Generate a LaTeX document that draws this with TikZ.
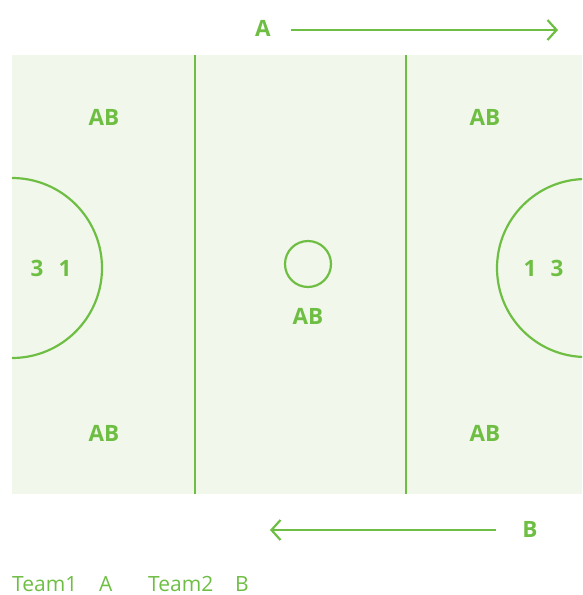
\documentclass[tikz,border=0pt]{standalone}
\usepackage{fontspec}
\setmainfont{Open Sans}
\usetikzlibrary{arrows.meta}
\definecolor{fgreen}{HTML}{6FBE44}
\definecolor{ffill}{HTML}{F1F8EB}
\tikzset{
  lbl/.style={text=fgreen,font=\bfseries\fontsize{22.5}{26}\selectfont,inner sep=0pt},
  leg/.style={text=fgreen,font=\fontsize{21}{24}\selectfont,inner sep=0pt,anchor=base west},
  fline/.style={draw=fgreen,line width=2.2pt},
  arr/.style={draw=fgreen,line width=2.2pt,-{Straight Barb[length=9pt,width=20pt,line width=2.2pt]}}
}
\begin{document}
\begin{tikzpicture}[x=1pt,y=-1pt]
\useasboundingbox (0,0) rectangle (582,595);
% field
\fill[ffill] (12,55) rectangle (582,494);
\draw[fline] (195,55) -- (195,494);
\draw[fline] (406,55) -- (406,494);
\begin{scope}
\clip (12,55) rectangle (582,494);
\draw[fline] (12,178) arc[start angle=-90,end angle=90,radius=90];
\draw[fline] (586,179) arc[start angle=-90,end angle=-270,radius=89];
\end{scope}
\node[circle,fline,minimum size=46pt,inner sep=0pt] (c) at (308,264) {};
% labels
\node[lbl] (ab1) at (104,117) {AB};
\node[lbl] (ab2) at (485,117) {AB};
\node[lbl] (ab3) at (104,433) {AB};
\node[lbl] (ab4) at (485,433) {AB};
\node[lbl] (ab5) at (308,316) {AB};
\node[lbl] (l3) at (37,268) {3};
\node[lbl] (l1) at (65,268) {1};
\node[lbl] (r1) at (530,268) {1};
\node[lbl] (r3) at (557,268) {3};
% arrows
\node[lbl] (A) at (263,28) {A};
\coordinate (a1) at (291,30);
\coordinate (a2) at (558,30);
\draw[arr] (a1) -- (a2);
\node[lbl] (B) at (530,529) {B};
\coordinate (b1) at (496,530);
\coordinate (b2) at (270,530);
\draw[arr] (b1) -- (b2);
% legend
\node[leg] (t1) at (12,591) {Team1};
\node[leg] (ta) at (99,591) {A};
\node[leg] (t2) at (148,591) {Team2};
\node[leg] (tb) at (235,591) {B};
\end{tikzpicture}
\end{document}
